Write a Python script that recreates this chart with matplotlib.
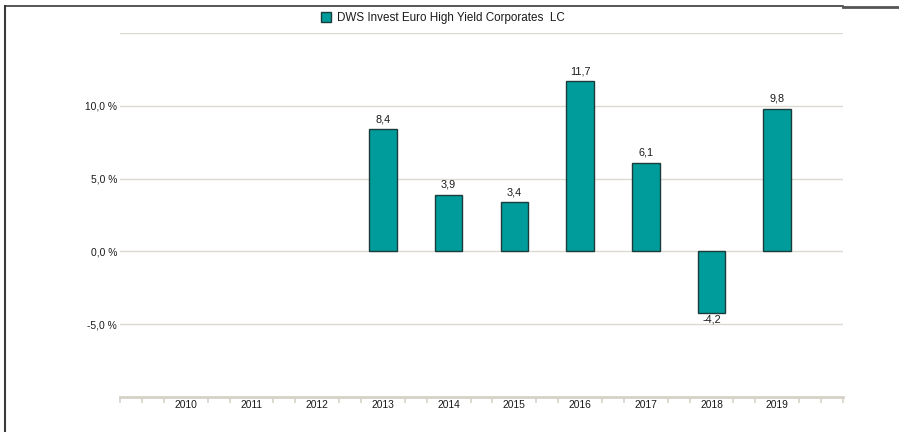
import matplotlib
matplotlib.use("Agg")
import matplotlib.pyplot as plt
from matplotlib.lines import Line2D
from matplotlib.patches import Patch
import numpy as np

plt.rcParams['font.family'] = ['Liberation Sans', 'DejaVu Sans']

years = [2010, 2011, 2012, 2013, 2014, 2015, 2016, 2017, 2018, 2019]
values = [None, None, None, 8.4, 3.9, 3.4, 11.7, 6.1, -4.2, 9.8]
value_labels = ["", "", "", "8,4", "3,9", "3,4", "11,7", "6,1", "-4,2", "9,8"]
ytick_vals = [-5, 0, 5, 10]
ytick_labels = ["-5,0 %", "0,0 %", "5,0 %", "10,0 %"]
series_name = "DWS Invest Euro High Yield Corporates  LC"

W, H = 899, 432
fig = plt.figure(figsize=(W / 100, H / 100), dpi=100)
ax = fig.add_axes([120 / W, 1 - 397 / H, 723 / W, 364 / H])

bar_color = "#009b9b"
edge_color = "#1c3c3c"
grid_color = "#dcd9d1"
text_color = "#1a1a1a"

ax.set_xlim(2009, 2020)
ax.set_ylim(-10, 15)

for g in [-5, 0, 5, 10, 15]:
    ax.axhline(g, color=grid_color, lw=1.0, zorder=0)

xs = [y for y, v in zip(years, values) if v is not None]
vs = [v for v in values if v is not None]
labs = [l for l, v in zip(value_labels, values) if v is not None]
ax.bar(xs, vs, width=0.42, color=bar_color, edgecolor=edge_color, linewidth=1.0, zorder=3)

for x, v, l in zip(xs, vs, labs):
    if v >= 0:
        ax.annotate(l, (x, v), xytext=(0, 3.5), textcoords="offset points",
                    ha="center", va="bottom", fontsize=7.8, color=text_color)
    else:
        ax.annotate(l, (x, v), xytext=(0, -1.5), textcoords="offset points",
                    ha="center", va="top", fontsize=7.8, color=text_color)

for s in ["top", "right", "left"]:
    ax.spines[s].set_visible(False)
ax.spines["bottom"].set_color("#d6d2c8")
ax.spines["bottom"].set_linewidth(2.0)

ax.set_yticks(ytick_vals)
ax.set_yticklabels(ytick_labels, fontsize=7.4, color=text_color)
ax.tick_params(axis="y", length=0, pad=2)

ax.set_xticks(years)
ax.set_xticklabels([str(y) for y in years], fontsize=7.4, color=text_color)
ax.tick_params(axis="x", which="major", length=0, pad=2)
minor = [2009 + k / 3 for k in range(0, 34) if k % 3 != 0 or k in (0, 33)]
ax.set_xticks(minor, minor=True)
ax.tick_params(axis="x", which="minor", length=4, width=1.2, color="#d6d2c8", direction="out")

handle = Patch(facecolor=bar_color, edgecolor=edge_color, linewidth=1.0)
fig.legend([handle], [series_name], loc="center", bbox_to_anchor=(443 / W, 1 - 18 / H),
           frameon=False, fontsize=8.4, handlelength=0.9, handleheight=0.9,
           handletextpad=0.5, borderpad=0, labelcolor=text_color)

# outer frame
fig.add_artist(Line2D([5 / W, 5 / W], [0, 1 - 6 / H], transform=fig.transFigure, color="#3a3a3a", lw=1.5))
fig.add_artist(Line2D([5 / W, 843 / W], [1 - 6 / H, 1 - 6 / H], transform=fig.transFigure, color="#3a3a3a", lw=1.2))
fig.add_artist(Line2D([843 / W, 1], [1 - 7 / H, 1 - 7 / H], transform=fig.transFigure, color="#555555", lw=2.0))

fig.savefig("out.png", dpi=100)
